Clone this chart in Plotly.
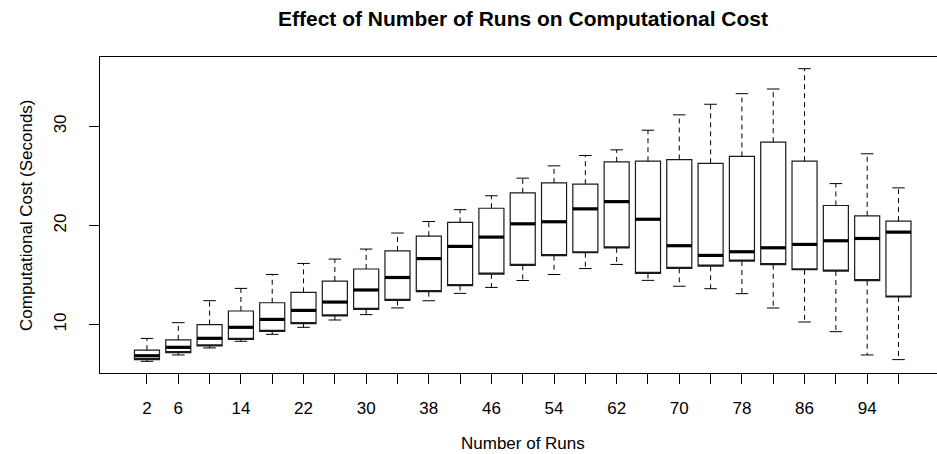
import plotly.graph_objects as go

# Number of runs (one box per setting)
runs = [2, 6, 10, 14, 18, 22, 26, 30, 34, 38, 42, 46, 50,
        54, 58, 62, 66, 70, 74, 78, 82, 86, 90, 94, 98]

# Five-number summaries of computational cost (seconds)
lower_whisker = [6.29, 6.93, 7.64, 8.31, 9.01, 9.72, 10.46, 11.00, 11.68, 12.40, 13.15, 13.75, 14.45,
                 15.05, 15.65, 16.07, 14.46, 13.87, 13.62, 13.12, 11.67, 10.26, 9.28, 6.93, 6.46]
q1 = [6.45, 7.17, 7.84, 8.51, 9.31, 10.09, 10.87, 11.53, 12.44, 13.32, 13.93, 15.10, 15.97,
      16.95, 17.25, 17.74, 15.16, 15.67, 15.89, 16.41, 16.04, 15.53, 15.40, 14.43, 12.78]
median = [6.85, 7.70, 8.61, 9.72, 10.52, 11.43, 12.27, 13.49, 14.75, 16.66, 17.89, 18.83, 20.17,
          20.38, 21.68, 22.41, 20.63, 17.96, 16.98, 17.35, 17.75, 18.09, 18.46, 18.69, 19.33]
q3 = [7.42, 8.45, 10.00, 11.37, 12.20, 13.25, 14.39, 15.61, 17.44, 18.92, 20.32, 21.74, 23.30,
      24.30, 24.17, 26.42, 26.49, 26.66, 26.28, 26.97, 28.41, 26.49, 22.02, 20.98, 20.44]
upper_whisker = [8.60, 10.19, 12.41, 13.65, 15.06, 16.17, 16.61, 17.62, 19.24, 20.40, 21.60, 23.00, 24.78,
                 26.02, 27.07, 27.64, 29.62, 31.17, 32.24, 33.31, 33.78, 35.83, 24.23, 27.24, 23.80]

# Labels printed under the ticks (crowded ones left blank)
tick_labels = ["2", "6", "", "14", "", "22", "", "30", "", "38", "", "46", "",
               "54", "", "62", "", "70", "", "78", "", "86", "", "94", ""]

y_ticks = [10, 20, 30]

FONT = "Liberation Sans, Arial, sans-serif"
BOX_W = 0.8      # box width in category units
CAP_W = 0.4      # staple width
pos = list(range(1, len(runs) + 1))

PLOT_TOP, PLOT_H = 57, 316


def segments(x0s, x1s, y0s, y1s):
    xs, ys = [], []
    for a, b, c, d in zip(x0s, x1s, y0s, y1s):
        xs += [a, b, None]
        ys += [c, d, None]
    return xs, ys


fig = go.Figure()

# dashed whiskers
wx, wy = segments(pos + pos, pos + pos, q3 + q1, upper_whisker + lower_whisker)
fig.add_trace(go.Scatter(x=wx, y=wy, mode="lines", hoverinfo="skip", showlegend=False,
                         line=dict(color="black", width=1, dash="5px,4px")))

# whisker staples
cx, cy = segments([p - CAP_W / 2 for p in pos] * 2, [p + CAP_W / 2 for p in pos] * 2,
                  upper_whisker + lower_whisker, upper_whisker + lower_whisker)
fig.add_trace(go.Scatter(x=cx, y=cy, mode="lines", hoverinfo="skip", showlegend=False,
                         line=dict(color="black", width=1)))

# box bodies (interquartile range)
fig.add_trace(go.Box(x=pos, q1=q1, median=q1, q3=q3, lowerfence=q1, upperfence=q3,
                     width=BOX_W, whiskerwidth=0, boxpoints=False,
                     fillcolor="white", line=dict(color="#1a1a1a", width=1.2),
                     hoverinfo="skip", showlegend=False))

# thick median bars
mx, my = segments([p - BOX_W / 2 for p in pos], [p + BOX_W / 2 for p in pos], median, median)
fig.add_trace(go.Scatter(x=mx, y=my, mode="lines", hoverinfo="skip", showlegend=False,
                         line=dict(color="black", width=3.2)))

lo, hi = min(lower_whisker), max(upper_whisker)
pad = 0.04 * (hi - lo)
x_mid = (pos[0] + pos[-1]) / 2

fig.update_layout(
    width=937, height=454,
    margin=dict(l=100, r=0, t=PLOT_TOP, b=454 - PLOT_TOP - PLOT_H),
    paper_bgcolor="white", plot_bgcolor="white",
    font=dict(family=FONT, color="black", size=17),
    xaxis=dict(range=[-0.5, 26.23], tickmode="array", tickvals=pos, ticktext=tick_labels,
               showgrid=False, zeroline=False, showline=True, mirror=True,
               linecolor="black", linewidth=1, ticks="outside", ticklen=10,
               tickcolor="black", tickfont=dict(size=17), ticklabelstandoff=10),
    yaxis=dict(range=[lo - pad, hi + pad], tickmode="array", tickvals=y_ticks,
               showgrid=False, zeroline=False, showline=True, mirror=False,
               linecolor="black", linewidth=1, ticks="outside", ticklen=10,
               tickcolor="black", tickangle=-90, tickfont=dict(size=17),
               ticklabelstandoff=16),
    annotations=[
        dict(text="<b>Effect of Number of Runs on Computational Cost</b>",
             x=x_mid, xref="x", y=1 + (PLOT_TOP - 18) / PLOT_H, yref="paper",
             yanchor="middle", showarrow=False, font=dict(size=21)),
        dict(text="Number of Runs", x=x_mid, xref="x",
             y=-(443 - PLOT_TOP - PLOT_H) / PLOT_H, yref="paper", yanchor="middle",
             showarrow=False, font=dict(size=17)),
        dict(text="Computational Cost (Seconds)", x=-(100 - 26) / 837, xref="paper",
             xanchor="center", y=0.5, yref="paper", yanchor="middle", textangle=-90,
             showarrow=False, font=dict(size=17)),
    ],
)

fig.write_html("out.html")
